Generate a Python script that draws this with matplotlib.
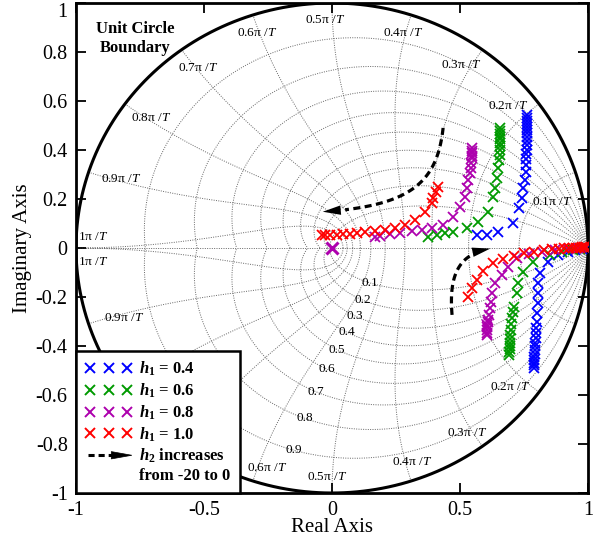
import numpy as np
import matplotlib
matplotlib.use('Agg')
import matplotlib.pyplot as plt
from matplotlib.lines import Line2D
from matplotlib.patches import Polygon
from matplotlib.legend_handler import HandlerBase

plt.rcParams['font.family'] = ['Liberation Serif', 'DejaVu Serif']
plt.rcParams['mathtext.fontset'] = 'custom'
plt.rcParams['mathtext.rm'] = 'Liberation Serif'
plt.rcParams['mathtext.it'] = 'Liberation Serif:italic'
plt.rcParams['mathtext.bf'] = 'Liberation Serif:bold'
plt.rcParams['mathtext.bfit'] = 'Liberation Serif:bold:italic'
plt.rcParams['axes.unicode_minus'] = False

# Root locus points, upper branch (h2 = -20 at the top of each column)
blue_up_x = [0.763, 0.763, 0.763, 0.762, 0.762, 0.762, 0.762, 0.761, 0.761, 0.760, 0.760,
             0.759, 0.759, 0.758, 0.758, 0.754, 0.747, 0.741, 0.732, 0.708, 0.650, 0.604, 0.565]
blue_up_y = [0.543, 0.532, 0.520, 0.508, 0.495, 0.482, 0.468, 0.453, 0.437, 0.420, 0.402,
             0.383, 0.362, 0.338, 0.311, 0.278, 0.244, 0.203, 0.162, 0.101, 0.067, 0.053, 0.053]

green_up_x = [0.657, 0.657, 0.657, 0.656, 0.656, 0.656, 0.655, 0.655, 0.655, 0.654, 0.650,
              0.646, 0.637, 0.630, 0.611, 0.572, 0.526, 0.474, 0.441, 0.409, 0.376]
green_up_y = [0.489, 0.478, 0.467, 0.455, 0.443, 0.430, 0.415, 0.399, 0.381, 0.359, 0.325,
              0.284, 0.244, 0.210, 0.148, 0.107, 0.080, 0.067, 0.060, 0.053, 0.044]

magenta_up_x = [0.546, 0.546, 0.546, 0.545, 0.545, 0.543, 0.542, 0.539, 0.533, 0.526, 0.520,
                0.500, 0.472, 0.432, 0.389, 0.350, 0.311, 0.266, 0.227, 0.188, 0.168]
magenta_up_y = [0.407, 0.396, 0.386, 0.376, 0.366, 0.346, 0.325, 0.305, 0.278, 0.244, 0.210,
                0.169, 0.128, 0.094, 0.080, 0.073, 0.069, 0.063, 0.057, 0.049, 0.044]

red_up_x = [0.415, 0.406, 0.396, 0.389, 0.363, 0.324, 0.285, 0.246, 0.207, 0.168, 0.129,
            0.096, 0.070, 0.044, 0.018, -0.008, -0.027, -0.040]
red_up_y = [0.250, 0.230, 0.203, 0.182, 0.148, 0.114, 0.094, 0.080, 0.073, 0.069, 0.064,
            0.060, 0.057, 0.056, 0.054, 0.053, 0.052, 0.052]

# Lower branch (h2 = -20 at the bottom of each column)
blue_lo_x = [0.790, 0.790, 0.790, 0.791, 0.791, 0.792, 0.792, 0.793, 0.794, 0.795, 0.796, 0.797,
             0.799, 0.801, 0.803, 0.805, 0.806, 0.812, 0.845, 0.883, 0.920, 0.950, 0.975, 0.992]
blue_lo_y = [-0.490, -0.479, -0.468, -0.456, -0.444, -0.431, -0.417, -0.402, -0.386, -0.368,
             -0.348, -0.326, -0.301, -0.264, -0.226, -0.185, -0.144, -0.103, -0.056, -0.029,
             -0.016, -0.009, -0.004, -0.001]

green_lo_x = [0.693, 0.693, 0.694, 0.694, 0.695, 0.696, 0.697, 0.699, 0.701, 0.703, 0.706,
              0.709, 0.721, 0.728, 0.747, 0.786, 0.850, 0.900, 0.940, 0.970, 0.990]
green_lo_y = [-0.437, -0.426, -0.414, -0.401, -0.387, -0.371, -0.354, -0.334, -0.312, -0.287,
              -0.262, -0.240, -0.185, -0.144, -0.097, -0.056, -0.028, -0.017, -0.009, -0.004,
              -0.001]

magenta_lo_x = [0.605, 0.605, 0.605, 0.606, 0.607, 0.608, 0.609, 0.613, 0.617, 0.621, 0.625,
                0.637, 0.664, 0.688, 0.723, 0.770, 0.820, 0.870, 0.920, 0.960, 0.990]
magenta_lo_y = [-0.355, -0.345, -0.335, -0.324, -0.314, -0.304, -0.294, -0.273, -0.245, -0.220,
                -0.184, -0.143, -0.110, -0.078, -0.041, -0.026, -0.016, -0.009, -0.005, -0.002,
                0.000]

red_lo_x = [0.531, 0.545, 0.566, 0.590, 0.629, 0.668, 0.710, 0.750, 0.790, 0.830, 0.860,
            0.885, 0.905, 0.925, 0.940, 0.955, 0.967, 0.977, 0.986, 0.994]
red_lo_y = [-0.200, -0.162, -0.131, -0.092, -0.063, -0.043, -0.031, -0.022, -0.015, -0.009,
            -0.006, -0.004, -0.002, -0.001, 0.000, 0.001, 0.002, 0.003, 0.003, 0.004]

origin_x = [0.0]
origin_y = [0.0]

series = [
    ('#0000ff', '0.4', blue_up_x, blue_up_y, blue_lo_x, blue_lo_y),
    ('#009a00', '0.6', green_up_x, green_up_y, green_lo_x, green_lo_y),
    ('#ad00ad', '0.8', magenta_up_x, magenta_up_y, magenta_lo_x, magenta_lo_y),
    ('#ff0000', '1.0', red_up_x, red_up_y, red_lo_x, red_lo_y),
]

# grid values
zeta_vals = np.arange(1, 10) / 10
wn_vals = np.arange(1, 11) / 10          # multiples of pi/T
# label placement (angle in degrees, radius) for the frequency curves
up_label_ang = [12.3, 40.0, 56.0, 72.5, 91.7, 108.5, 125.5, 143.0, 161.0, 177.2]
up_label_r = [0.88, 0.90, 0.90, 0.92, 0.93, 0.925, 0.90, 0.885, 0.87, 0.935]
# lower half: None = label not drawn (behind the legend / next to the locus)
lo_label_ang = [None, 39.2, 55.1, 70.3, 91.2, 105.8, None, None, 160.6, 176.5]
lo_label_r = [None, 0.897, 0.921, 0.927, 0.935, 0.933, None, None, 0.859, 0.936]

fig = plt.figure(figsize=(5.95, 5.43), dpi=100)
ax = fig.add_axes([76 / 595, 50 / 543, 512 / 595, 490 / 543])

grid_kw = dict(color='0.4', lw=0.7, ls=(0, (1, 1.4)), zorder=1)

# constant damping curves
for z in zeta_vals:
    w = np.linspace(0, np.pi / np.sqrt(1 - z ** 2), 400)
    p = np.exp(-z * w + 1j * w * np.sqrt(1 - z ** 2))
    ax.plot(p.real, p.imag, **grid_kw)
    ax.plot(p.real, -p.imag, **grid_kw)

# constant natural frequency curves
zz = np.linspace(0, 1, 300)
for wn in wn_vals:
    w = wn * np.pi
    p = np.exp(-zz * w + 1j * w * np.sqrt(1 - zz ** 2))
    ax.plot(p.real, p.imag, **grid_kw)
    ax.plot(p.real, -p.imag, **grid_kw)

ax.plot([-1, 1], [0, 0], **grid_kw)

# unit circle
th = np.linspace(0, 2 * np.pi, 500)
ax.plot(np.cos(th), np.sin(th), color='k', lw=2.2, zorder=3)

# grid labels
for i, wn in enumerate(wn_vals):
    txt = f'{wn:g}\u03c0 /$T$'
    a = np.deg2rad(up_label_ang[i])
    r = up_label_r[i]
    ax.text(r * np.cos(a), r * np.sin(a), txt, fontsize=9.5, ha='center', va='center', zorder=2)
    if lo_label_ang[i] is not None:
        a = np.deg2rad(lo_label_ang[i])
        r = lo_label_r[i]
        ax.text(r * np.cos(a), -r * np.sin(a), txt, fontsize=9.5, ha='center', va='center',
                zorder=2)

for k in range(1, 10):
    z = 1 - k / 10
    w = 1.76
    p = np.exp(-z * w - 1j * w * np.sqrt(1 - z ** 2))
    ax.text(p.real, p.imag, f'{k / 10:g}', fontsize=9.5, ha='center', va='center', zorder=2)

# locus points
mk = dict(ls='none', marker='x', ms=7.5, mew=1.3, zorder=4)
for color, lab, xu, yu, xl, yl in series:
    ax.plot(xu, yu, color=color, **mk)
    ax.plot(xl, yl, color=color, **mk)
ax.plot(origin_x, origin_y, ls='none', marker='x', ms=8, mew=2.2, color='#ad00ad', zorder=4)


def bezier(p0, p1, p2, p3, n=80):
    t = np.linspace(0, 1, n)[:, None]
    pts = ((1 - t) ** 3 * np.array(p0) + 3 * (1 - t) ** 2 * t * np.array(p1)
           + 3 * (1 - t) * t ** 2 * np.array(p2) + t ** 3 * np.array(p3))
    return pts[:, 0], pts[:, 1]


def dashed_arrow(p0, p1, p2, p3):
    bx, by = bezier(p0, p1, p2, p3)
    ax.plot(bx[:-8], by[:-8], color='k', lw=2.3, dashes=(2.2, 1.4), zorder=5)
    ax.annotate('', xy=(bx[-1], by[-1]), xytext=(bx[-9], by[-9]),
                arrowprops=dict(arrowstyle='-|>,head_length=0.65,head_width=0.17',
                                color='k', lw=0, mutation_scale=20), zorder=5)


dashed_arrow((0.434, 0.49), (0.41, 0.26), (0.30, 0.17), (-0.047, 0.147))
dashed_arrow((0.469, -0.273), (0.455, -0.10), (0.50, -0.02), (0.629, 0.0))

ax.text(-0.77, 0.855, 'Unit Circle\nBoundary', fontsize=12, fontweight='bold',
        ha='center', va='center', linespacing=1.3, zorder=6)


# legend with an arrow entry
class DashArrow:
    pass


class DashArrowHandler(HandlerBase):
    def create_artists(self, legend, orig_handle, xdescent, ydescent, width, height,
                       fontsize, trans):
        x0 = -xdescent
        y = height / 2 - ydescent + 0.62 * fontsize
        shaft = Line2D([x0 + 0.05 * width, x0 + 0.6 * width], [y, y], color='k', lw=2.2,
                       dashes=(2.0, 1.3), transform=trans)
        head = Polygon([[x0 + 0.56 * width, y + 0.22 * fontsize], [x0 + width, y],
                        [x0 + 0.56 * width, y - 0.22 * fontsize]], closed=True,
                       fc='k', ec='k', lw=0.5, transform=trans)
        return [shaft, head]


handles = [Line2D([], [], ls='none', marker='x', ms=7.5, mew=1.4, color=s[0]) for s in series]
labels = [r'$\mathbfit{h}_\mathbf{1}$ = ' + s[1] for s in series]
handles.append(DashArrow())
labels.append(r'$\mathbfit{h}_\mathbf{2}$ increases' + '\nfrom -20 to 0')

leg = ax.legend(handles, labels, loc='lower left', bbox_to_anchor=(0, 0), borderaxespad=0,
                numpoints=3, handlelength=2.8, handletextpad=0.45, labelspacing=0.2,
                borderpad=0.55, prop={'weight': 'bold', 'size': 12}, fancybox=False,
                framealpha=1, edgecolor='k', handler_map={DashArrow: DashArrowHandler()})
leg.get_frame().set_linewidth(1.8)
leg.set_zorder(10)

ax.set_xlim(-1, 1)
ax.set_ylim(-1, 1)
xt = [-1, -0.5, 0, 0.5, 1]
yt = np.round(np.linspace(-1, 1, 11), 1) + 0.0
ax.set_xticks(xt, labels=[f'{v:g}' for v in xt])
ax.set_yticks(yt, labels=[f'{v:g}' for v in yt])
ax.tick_params(direction='in', length=7, width=1.3, top=True, right=True, labelsize=14.5,
               pad=6)
ax.yaxis.get_major_ticks()[-1].label1.set_verticalalignment('top')
for sp in ax.spines.values():
    sp.set_linewidth(2)

ax.set_xlabel('Real Axis', fontsize=15)
ax.set_ylabel('Imaginary Axis', fontsize=15)
ax.xaxis.set_label_coords(0.5, -0.052)
ax.yaxis.set_label_coords(-0.085, 0.5)

fig.savefig('out.png', dpi=100)
